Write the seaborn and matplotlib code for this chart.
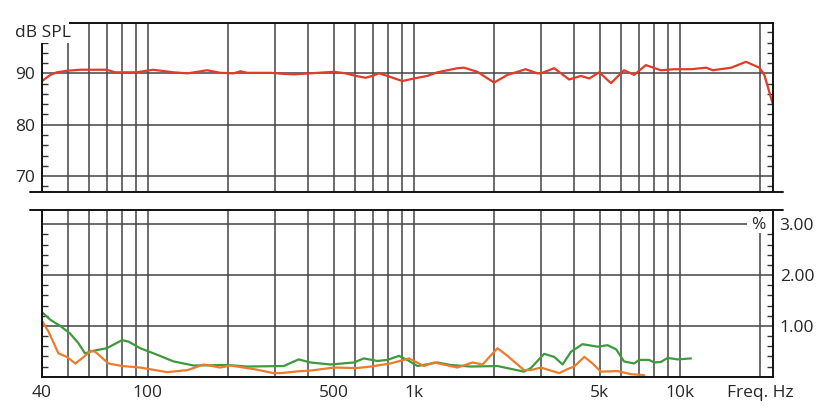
import matplotlib
matplotlib.use("Agg")
import matplotlib.pyplot as plt
import seaborn as sns
import numpy as np
from matplotlib.patches import Rectangle
from matplotlib.lines import Line2D

sns.set_style("white")
plt.rcParams['font.family'] = ['Open Sans', 'DejaVu Sans']

# frequency response (dB SPL)
spl_freq = [40, 43, 45.5, 49.6, 55.7, 70, 75.3, 90.6, 104.6, 125, 141, 167, 187, 210, 223,
            236, 289, 324, 354, 500, 553, 603, 658, 697, 739, 794, 904, 1000, 1123, 1225,
            1456, 1541, 1732, 2000, 2247, 2630, 2910, 3000, 3366, 3830, 4240, 4560, 4970,
            5500, 6160, 6720, 7440, 8470, 9520, 11000, 12540, 13280, 15570, 17700, 19870,
            20740, 22270]
spl_db = [88.5, 89.7, 90.2, 90.5, 90.7, 90.7, 90.2, 90.2, 90.7, 90.2, 90.0, 90.6, 90.1,
          90.0, 90.4, 90.1, 90.1, 89.9, 89.8, 90.3, 90.0, 89.5, 89.15, 89.5, 90.0, 89.5,
          88.5, 89.0, 89.5, 90.2, 91.0, 91.1, 90.3, 88.2, 89.7, 90.8, 90.0, 90.0, 91.0,
          88.8, 89.5, 89.0, 90.2, 88.1, 90.6, 89.7, 91.6, 90.6, 90.8, 90.8, 91.1, 90.6,
          91.1, 92.25, 91.1, 89.7, 84.2]

# distortion, green curve (%)
thd_freq = [40, 43, 46.8, 51, 54.8, 58, 62.4, 70, 80, 84.6, 93.6, 105, 125, 148.6, 199,
            236, 324, 354, 369, 408, 486, 595, 648, 728, 794, 878, 944, 1030, 1225, 1374,
            1633, 2060, 2590, 2750, 3085, 3366, 3620, 3890, 4300, 4900, 5340, 5750, 6160,
            6720, 7020, 7650, 7990, 8470, 8980, 9790, 11000]
thd_pct = [1.27, 1.12, 1.00, 0.85, 0.66, 0.46, 0.51, 0.56, 0.72, 0.69, 0.56, 0.46, 0.30,
           0.22, 0.23, 0.20, 0.21, 0.30, 0.34, 0.28, 0.24, 0.28, 0.36, 0.31, 0.33, 0.41,
           0.33, 0.21, 0.28, 0.23, 0.20, 0.21, 0.10, 0.17, 0.45, 0.39, 0.24, 0.49, 0.64,
           0.59, 0.62, 0.54, 0.30, 0.26, 0.33, 0.33, 0.28, 0.29, 0.37, 0.34, 0.36]

# distortion, orange curve (%)
h3_freq = [40, 42.3, 46.1, 49.6, 53.4, 56.5, 61, 63.4, 71.1, 80, 93.6, 118, 141, 162, 187,
           204, 250, 297, 315, 374, 408, 500, 612, 687, 817, 958, 1090, 1190, 1456, 1659,
           1810, 2060, 2247, 2590, 2750, 3000, 3270, 3520, 3780, 4000, 4370, 4690, 5040,
           5830, 6540, 7340]
h3_pct = [1.10, 0.89, 0.46, 0.39, 0.26, 0.36, 0.51, 0.49, 0.26, 0.21, 0.18, 0.09, 0.13,
          0.24, 0.18, 0.22, 0.15, 0.07, 0.07, 0.11, 0.12, 0.18, 0.17, 0.20, 0.26, 0.36,
          0.21, 0.28, 0.18, 0.28, 0.24, 0.56, 0.41, 0.13, 0.13, 0.18, 0.12, 0.07, 0.15,
          0.20, 0.39, 0.26, 0.10, 0.11, 0.05, 0.03]

grid_freqs = [50, 60, 70, 80, 90, 100, 200, 300, 400, 500, 600, 700, 800, 900, 1000,
              2000, 3000, 4000, 5000, 6000, 7000, 8000, 9000, 10000, 20000]
x_labels = {40: "40", 100: "100", 500: "500", 1000: "1k", 5000: "5k", 10000: "10k",
            20000: "Freq. Hz"}

W, H = 826, 415
fig = plt.figure(figsize=(W / 100, H / 100), dpi=100)
L, R = 42 / W, 772.7 / W
ax1 = fig.add_axes([L, 1 - 192 / H, R - L, 169 / H])
ax2 = fig.add_axes([L, 1 - 376.7 / H, R - L, 166.7 / H])

grid_kw = dict(color="#444444", linewidth=1.1)
for ax in (ax1, ax2):
    ax.set_xscale("log")
    ax.set_xlim(40, 22300)
    ax.xaxis.set_minor_locator(matplotlib.ticker.NullLocator())
    for s in ax.spines.values():
        s.set_color("#111111")
        s.set_linewidth(1.4)
    ax.grid(True, which="major", **grid_kw)
    ax.set_axisbelow(True)
    ax.tick_params(axis="x", length=0)
    ax.tick_params(axis="y", which="both", direction="in", left=True, right=True,
                   length=4, width=1, color="#333333")

# upper panel: SPL
sns.lineplot(x=spl_freq, y=spl_db, ax=ax1, color="#e23b28", linewidth=1.6)
ax1.set_ylim(66.9, 99.8)
ax1.set_xticks(grid_freqs, [""] * len(grid_freqs))
ax1.set_yticks([70, 80, 90])
ax1.set_yticks(np.arange(68, 99, 2), minor=True)
ax1.tick_params(axis="y", labelsize=12.5, pad=5, length=0, which="major")
ax1.spines["bottom"].set_visible(False)

# lower panel: distortion
sns.lineplot(x=thd_freq, y=thd_pct, ax=ax2, color="#3d9a3d", linewidth=1.6)
sns.lineplot(x=h3_freq, y=h3_pct, ax=ax2, color="#ec7c2c", linewidth=1.6)
ax2.set_ylim(0, 3.28)
ticks2 = [40] + grid_freqs
ax2.set_xticks(ticks2, [x_labels.get(f, "") for f in ticks2])
ax2.tick_params(axis="x", labelsize=12.5, pad=6)
ax2.set_yticks([1, 2, 3])
ax2.set_yticks(np.arange(0.2, 3.2, 0.2), minor=True)
ax2.yaxis.set_major_formatter(matplotlib.ticker.FormatStrFormatter("%.2f"))
ax2.tick_params(axis="y", labelleft=False, labelright=True, labelsize=12.5, pad=5,
                length=0, which="major")
ax2.spines["top"].set_visible(False)

# separator lines reaching past the frames
for yy in (192, 210):
    fig.add_artist(Line2D([30 / W, 783 / W], [1 - yy / H, 1 - yy / H],
                          transform=fig.transFigure, color="#111111", linewidth=1.4))

# white boxes behind the unit labels
fig.add_artist(Rectangle((8 / W, 1 - 43 / H), 61 / W, 30 / H, transform=fig.transFigure,
                         facecolor="white", edgecolor="none"))
fig.text(43 / W, 1 - 33 / H, "dB SPL", ha="center", va="center", fontsize=12.5)
fig.add_artist(Rectangle((747 / W, 1 - 233 / H), 24.5 / W, 21 / H,
                         transform=fig.transFigure, facecolor="white", edgecolor="none"))
fig.text(758 / W, 1 - 225 / H, "%", ha="center", va="center", fontsize=12.5)

fig.savefig("out.png", dpi=100)
